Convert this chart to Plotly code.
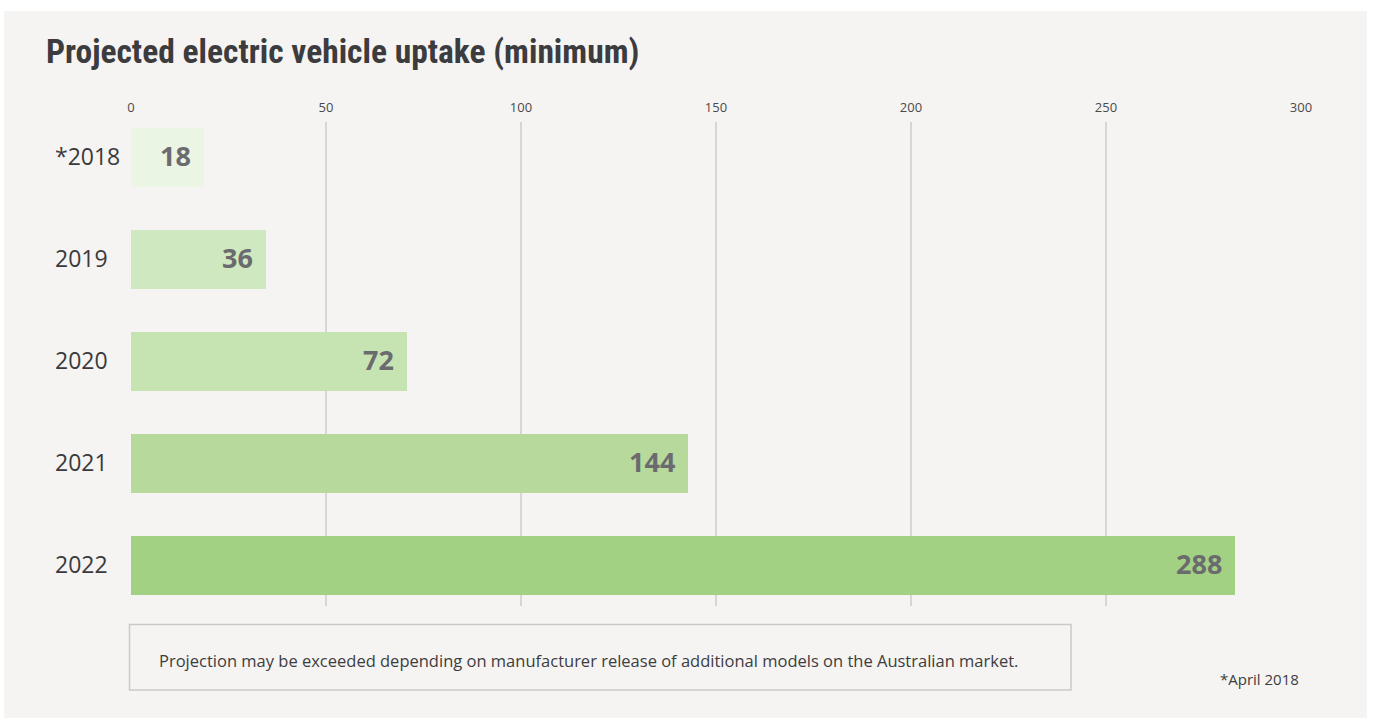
import plotly.graph_objects as go

# ---- data ----
categories = ["*2018", "2019", "2020", "2021", "2022"]
value_labels = [18, 36, 72, 144, 288]
bar_lengths = [18.8, 34.7, 70.8, 142.9, 283.2]   # lengths as drawn in the reference
bar_colors = ["#eaf5e3", "#cfe8c0", "#c6e3b2", "#b7da9c", "#a2d184"]
x_ticks = [0, 50, 100, 150, 200, 250, 300]

title_text = "Projected electric vehicle uptake (minimum)"
note_text = ("Projection may be exceeded depending on manufacturer release of "
             "additional models on the Australian market.")
date_text = "*April 2018"

W, H = 1375, 718
L, R, T, B = 131, 1301, 122, 606   # plot area in pixels

def px(x):
    return (x - L) / (R - L)

def py(y):
    return (B - y) / (B - T)

BG = "#f5f4f2"
FONT = "Open Sans, Noto Sans, sans-serif"

fig = go.Figure()
fig.add_trace(go.Bar(
    y=categories, x=bar_lengths, orientation="h",
    marker=dict(color=bar_colors, line=dict(width=0)),
    width=0.575, hoverinfo="skip", showlegend=False,
))

annotations = []
for i, (c, v, lab) in enumerate(zip(categories, bar_lengths, value_labels)):
    annotations.append(dict(
        x=v, y=i, xref="x", yref="y", text=f"<b>{lab}</b>", showarrow=False,
        xanchor="right", yanchor="middle", xshift=-11, yshift=2,
        font=dict(family=FONT, size=27, color="#6b6b6f"),
    ))
    annotations.append(dict(
        x=px(53), y=i, xref="paper", yref="y", text=c, showarrow=False,
        xanchor="left", yanchor="middle", yshift=1,
        font=dict(family=FONT, size=23, color="#3a3a3c"),
    ))

annotations.append(dict(
    x=px(44), y=py(52), xref="paper", yref="paper",
    text=f"<b>{title_text}</b>", showarrow=False, xanchor="left", yanchor="middle",
    font=dict(family="Liberation Sans Narrow, Roboto Condensed, Roboto, sans-serif",
              size=33.5, color="#3c3c3e"),
))
annotations.append(dict(
    x=px(157), y=py(660), xref="paper", yref="paper", text=note_text,
    showarrow=False, xanchor="left", yanchor="middle",
    font=dict(family=FONT, size=16.5, color="#3d3d3f"),
))
annotations.append(dict(
    x=px(1301), y=py(679), xref="paper", yref="paper", text=date_text,
    showarrow=False, xanchor="right", yanchor="middle",
    font=dict(family=FONT, size=15, color="#3d3d3f"),
))

shapes = [
    dict(type="rect", xref="paper", yref="paper",
         x0=px(4), x1=px(1367), y0=py(11), y1=py(718),
         fillcolor=BG, line=dict(width=0), layer="below"),
    dict(type="rect", xref="paper", yref="paper",
         x0=px(129.5), x1=px(1071), y0=py(624.5), y1=py(690),
         fillcolor=BG, line=dict(color="#c9c9c9", width=1.5), layer="below"),
]

fig.update_layout(
    width=W, height=H,
    margin=dict(l=L, r=W - R, t=T, b=H - B, pad=0),
    paper_bgcolor="white", plot_bgcolor="rgba(0,0,0,0)",
    annotations=annotations, shapes=shapes,
    xaxis=dict(range=[0, 300], side="top", tickvals=x_ticks,
               showgrid=True, gridcolor="#d6d6d6", gridwidth=2,
               zeroline=False, showline=False, ticks="",
               ticklabelstandoff=6,
               tickfont=dict(family=FONT, size=13, color="#4a4a4c"),
               fixedrange=True),
    yaxis=dict(type="category", range=[4.4, -0.346], showticklabels=False,
               showgrid=False, zeroline=False, showline=False, ticks="",
               categoryorder="array", categoryarray=categories,
               fixedrange=True),
    bargap=0,
)

fig.write_html("out.html", config={"displayModeBar": False},
               post_script="document.body.style.margin='0';")
